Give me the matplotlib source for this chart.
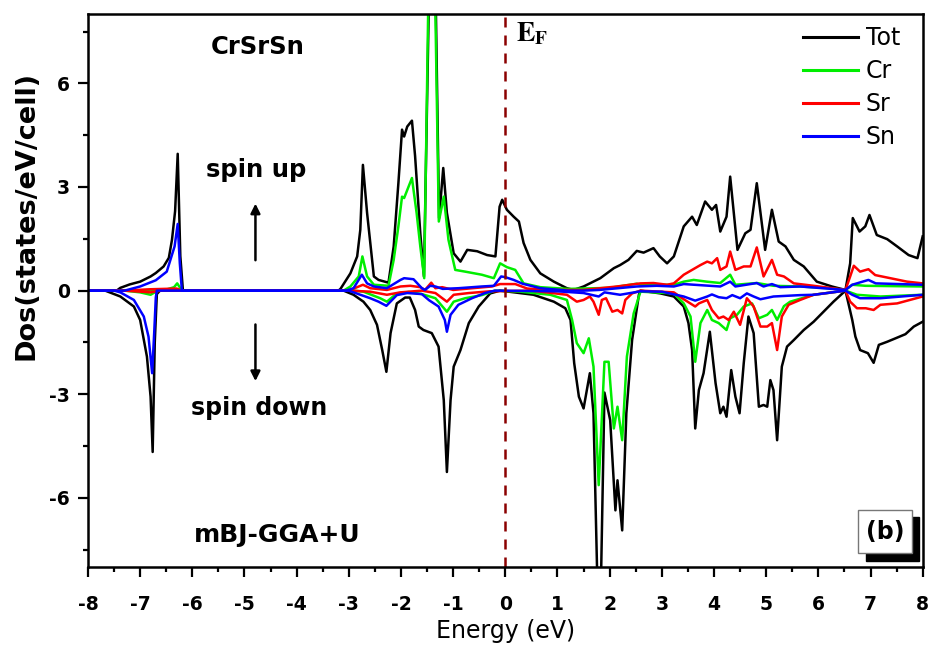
import matplotlib
matplotlib.use("Agg")
import matplotlib.pyplot as plt
from matplotlib.patches import Rectangle

# Spin-polarised total and partial DOS of CrSrSn (E - EF in eV, states/eV/cell)
tot_up = [(-8, 0), (-7.45, 0), (-7.38, 0.08), (-7.2, 0.18), (-7.0, 0.26), (-6.8, 0.41), (-6.7, 0.51),
          (-6.55, 0.70), (-6.45, 0.95), (-6.39, 1.47), (-6.33, 2.3), (-6.28, 3.96), (-6.23, 1.0), (-6.18, 0),
          (-3.2, 0), (-3.16, 0.05), (-2.97, 0.50), (-2.84, 0.99), (-2.78, 1.76), (-2.73, 3.64), (-2.65, 2.25),
          (-2.52, 0.41), (-2.43, 0.31), (-2.24, 0.23), (-2.14, 1.28), (-2.05, 3.11), (-1.98, 4.66), (-1.94, 4.46),
          (-1.88, 4.75), (-1.79, 4.92), (-1.73, 3.9), (-1.63, 1.66), (-1.56, 0.41), (-1.47, 8.0), (-1.41, 15.0),
          (-1.33, 8.0), (-1.27, 2.1), (-1.19, 3.55), (-1.12, 2.25), (-0.99, 1.08), (-0.86, 0.84), (-0.73, 1.18),
          (-0.54, 1.14), (-0.35, 1.03), (-0.19, 0.99), (-0.11, 2.43), (-0.06, 2.63), (0.03, 2.34), (0.16, 2.14),
          (0.26, 2.0), (0.35, 1.38), (0.48, 0.89), (0.67, 0.50), (0.93, 0.26), (1.18, 0.07), (1.31, 0.02),
          (1.50, 0.12), (1.82, 0.36), (2.08, 0.65), (2.20, 0.74), (2.36, 0.89), (2.52, 1.15), (2.65, 1.10),
          (2.84, 1.23), (2.96, 0.99), (3.10, 0.79), (3.23, 0.99), (3.42, 1.86), (3.58, 2.14), (3.67, 1.90),
          (3.83, 2.58), (3.96, 2.34), (4.04, 2.48), (4.12, 1.71), (4.24, 2.14), (4.31, 3.30), (4.45, 1.18),
          (4.60, 1.66), (4.70, 1.76), (4.82, 3.11), (4.98, 1.18), (5.11, 2.34), (5.24, 1.42), (5.37, 1.28),
          (5.53, 0.89), (5.72, 0.70), (5.97, 0.26), (6.26, 0.12), (6.52, 0.02), (6.61, 0.79), (6.66, 2.10),
          (6.79, 1.71), (6.90, 1.86), (6.98, 2.19), (7.12, 1.61), (7.32, 1.49), (7.51, 1.28), (7.73, 1.03),
          (7.90, 0.94), (8.0, 1.57)]

tot_dn = [(-8, 0), (-7.67, 0), (-7.38, -0.17), (-7.12, -0.46), (-7.0, -0.85), (-6.87, -1.91), (-6.80, -3.07),
          (-6.76, -4.67), (-6.72, -1.5), (-6.68, -0.1), (-6.62, 0), (-3.10, 0), (-2.91, -0.12), (-2.72, -0.32),
          (-2.59, -0.56), (-2.46, -0.99), (-2.36, -1.72), (-2.28, -2.35), (-2.20, -1.23), (-2.08, -0.37),
          (-1.92, -0.20), (-1.83, -0.20), (-1.73, -0.56), (-1.66, -1.04), (-1.57, -1.14), (-1.41, -1.23),
          (-1.28, -1.62), (-1.18, -3.17), (-1.12, -5.25), (-1.05, -3.17), (-0.99, -2.20), (-0.86, -1.72),
          (-0.70, -0.94), (-0.51, -0.46), (-0.29, -0.08), (-0.10, 0), (0.54, -0.12), (0.93, -0.32),
          (1.15, -0.51), (1.25, -0.85), (1.32, -2.10), (1.41, -3.07), (1.50, -3.41), (1.62, -2.39),
          (1.69, -3.55), (1.78, -9.5), (1.82, -9.5), (1.90, -2.95), (2.01, -3.75), (2.11, -6.36), (2.15, -5.49),
          (2.24, -6.94), (2.32, -3.55), (2.43, -1.43), (2.56, -0.12), (2.59, 0.0), (2.97, -0.08), (3.23, -0.17),
          (3.42, -0.46), (3.51, -0.94), (3.58, -1.72), (3.64, -3.99), (3.71, -2.88), (3.80, -2.39),
          (3.92, -1.19), (4.03, -2.68), (4.12, -3.55), (4.18, -3.36), (4.24, -3.65), (4.33, -2.30),
          (4.41, -3.07), (4.49, -3.55), (4.57, -2.10), (4.66, -0.75), (4.76, -1.23), (4.86, -3.36),
          (4.95, -3.31), (5.02, -3.36), (5.08, -2.59), (5.14, -2.88), (5.21, -4.33), (5.30, -2.20),
          (5.40, -1.62), (5.53, -1.43), (5.72, -1.14), (5.91, -0.90), (6.10, -0.61), (6.29, -0.32),
          (6.52, 0.0), (6.65, -0.85), (6.71, -1.33), (6.80, -1.72), (6.95, -1.81), (7.06, -2.09),
          (7.16, -1.57), (7.32, -1.48), (7.48, -1.38), (7.67, -1.26), (7.83, -1.04), (8.0, -0.90)]

cr_up = [(-8, 0), (-7.2, 0), (-6.5, 0.03), (-6.35, 0.1), (-6.29, 0.21), (-6.22, 0.05), (-6.18, 0),
         (-3.1, 0), (-2.97, 0.12), (-2.81, 0.41), (-2.74, 0.99), (-2.65, 0.41), (-2.52, 0.17), (-2.24, 0.14),
         (-2.14, 0.89), (-2.05, 1.86), (-1.98, 2.72), (-1.94, 2.68), (-1.79, 3.26), (-1.70, 2.24),
         (-1.63, 1.28), (-1.555, 0.36), (-1.48, 8.0), (-1.41, 14.0), (-1.34, 8.0), (-1.275, 2.0),
         (-1.18, 2.72), (-1.09, 1.47), (-0.96, 0.60), (-0.77, 0.55), (-0.45, 0.46), (-0.22, 0.36),
         (-0.10, 0.79), (0.03, 0.68), (0.19, 0.60), (0.35, 0.21), (0.67, 0.10), (1.2, 0.05), (2.0, 0.08),
         (2.52, 0.2), (2.59, 0.17), (3.23, 0.17), (3.42, 0.26), (3.61, 0.31), (3.86, 0.26), (4.12, 0.22),
         (4.31, 0.46), (4.41, 0.17), (4.82, 0.22), (5.14, 0.14), (5.65, 0.12), (6.2, 0.07), (6.52, 0.02),
         (6.65, 0.17), (6.9, 0.14), (8.0, 0.12)]

cr_dn = [(-8, 0), (-7.3, 0), (-7.0, -0.05), (-6.80, -0.12), (-6.72, -0.05), (-6.65, 0), (-2.9, 0),
         (-2.72, -0.03), (-2.40, -0.22), (-2.27, -0.32), (-2.08, -0.08), (-1.85, -0.04), (-1.6, -0.1),
         (-1.34, -0.22), (-1.12, -0.61), (-0.99, -0.32), (-0.77, -0.22), (-0.45, -0.13), (-0.2, 0),
         (0.29, -0.03), (0.86, -0.12), (1.18, -0.27), (1.28, -0.85), (1.37, -1.52), (1.50, -1.81),
         (1.60, -1.38), (1.69, -2.20), (1.79, -5.63), (1.90, -2.06), (1.98, -2.06), (2.08, -3.99),
         (2.15, -3.36), (2.24, -4.33), (2.33, -1.91), (2.46, -0.66), (2.59, -0.03), (3.23, -0.08),
         (3.42, -0.37), (3.55, -0.75), (3.64, -2.06), (3.74, -0.94), (3.87, -0.56), (3.96, -0.85),
         (4.09, -0.94), (4.24, -1.14), (4.31, -0.80), (4.44, -0.70), (4.57, -0.46), (4.73, -0.37),
         (4.86, -0.80), (5.02, -0.70), (5.11, -0.56), (5.21, -0.85), (5.34, -0.45), (5.46, -0.32),
         (5.91, -0.12), (6.52, 0.0), (6.74, -0.12), (7.19, -0.17), (8.0, -0.12)]

sr_up = [(-8, 0), (-7.3, 0), (-6.8, 0.04), (-6.3, 0.06), (-6.2, 0), (-3.0, 0), (-2.73, 0.17), (-2.59, 0.07),
         (-2.27, 0.02), (-2.01, 0.12), (-1.82, 0.14), (-1.63, 0.10), (-1.54, 0.02), (-1.42, 0.23),
         (-1.34, 0.07), (-1.21, 0.10), (-1.0, 0.02), (-0.26, 0.12), (-0.10, 0.19), (0.19, 0.19),
         (0.42, 0.06), (0.8, 0.02), (1.5, 0.02), (2.14, 0.12), (2.59, 0.21), (2.84, 0.22), (3.10, 0.17),
         (3.23, 0.21), (3.42, 0.46), (3.58, 0.60), (3.74, 0.74), (3.87, 0.84), (3.96, 0.79), (4.06, 0.94),
         (4.12, 0.60), (4.24, 0.70), (4.31, 1.13), (4.41, 0.60), (4.57, 0.70), (4.70, 0.70), (4.82, 1.25),
         (4.95, 0.41), (5.11, 0.89), (5.21, 0.46), (5.34, 0.41), (5.53, 0.21), (5.91, 0.14), (6.52, 0.02),
         (6.61, 0.41), (6.68, 0.72), (6.80, 0.55), (6.96, 0.62), (7.09, 0.45), (7.38, 0.36), (7.70, 0.26),
         (8.0, 0.21)]

sr_dn = [(-8, 0), (-7.3, 0), (-6.8, -0.05), (-6.6, 0), (-3.0, 0), (-2.59, -0.03), (-2.27, -0.12),
         (-2.01, -0.05), (-1.6, 0), (-1.34, -0.07), (-1.12, -0.32), (-0.99, -0.12), (-0.7, -0.07),
         (-0.3, -0.02), (0.5, 0), (1.18, -0.12), (1.37, -0.32), (1.50, -0.27), (1.62, -0.17), (1.69, -0.32),
         (1.79, -0.70), (1.85, -0.27), (1.93, -0.22), (2.05, -0.61), (2.15, -0.56), (2.24, -0.66),
         (2.30, -0.27), (2.43, -0.08), (2.59, 0), (3.23, -0.05), (3.42, -0.25), (3.64, -0.46), (3.71, -0.37),
         (3.87, -0.27), (3.96, -0.56), (4.09, -0.80), (4.18, -0.75), (4.28, -0.85), (4.38, -0.61),
         (4.50, -0.99), (4.63, -0.22), (4.76, -0.46), (4.89, -1.04), (5.02, -1.04), (5.11, -0.94),
         (5.21, -1.72), (5.30, -0.75), (5.43, -0.41), (5.65, -0.27), (5.91, -0.12), (6.52, 0),
         (6.61, -0.32), (6.74, -0.51), (6.91, -0.51), (7.06, -0.56), (7.19, -0.41), (7.51, -0.37),
         (8.0, -0.17)]

sn_up = [(-8, 0), (-7.3, 0), (-7.0, 0.12), (-6.7, 0.3), (-6.49, 0.55), (-6.34, 1.28), (-6.28, 1.93),
         (-6.24, 0.8), (-6.20, 0), (-3.05, 0), (-2.91, 0.07), (-2.75, 0.46), (-2.65, 0.21), (-2.52, 0.12),
         (-2.27, 0.07), (-2.01, 0.31), (-1.94, 0.36), (-1.76, 0.33), (-1.60, 0.07), (-1.54, 0.02),
         (-1.44, 0.14), (-1.34, 0.12), (-1.2, 0.05), (-0.9, 0.07), (-0.45, 0.12), (-0.22, 0.14),
         (-0.08, 0.41), (0.0, 0.39), (0.16, 0.31), (0.33, 0.2), (0.67, 0.07), (1.2, 0.0), (1.5, 0.0),
         (1.8, 0.02), (2.52, 0.12), (2.9, 0.14), (3.23, 0.12), (3.42, 0.19), (4.12, 0.12), (4.31, 0.26),
         (4.41, 0.12), (4.82, 0.22), (4.95, 0.12), (5.11, 0.19), (5.27, 0.10), (5.65, 0.12), (6.52, 0.02),
         (6.65, 0.17), (6.96, 0.31), (7.1, 0.21), (8.0, 0.17)]

sn_dn = [(-8, 0), (-7.5, 0), (-7.38, -0.05), (-7.12, -0.27), (-6.93, -0.75), (-6.84, -1.33), (-6.77, -2.39),
         (-6.73, -1.2), (-6.70, -0.2), (-6.68, 0), (-3.0, 0), (-2.91, -0.05), (-2.59, -0.22), (-2.43, -0.32),
         (-2.28, -0.44), (-2.08, -0.13), (-1.88, -0.07), (-1.6, -0.1), (-1.46, -0.28), (-1.28, -0.46),
         (-1.16, -0.85), (-1.12, -1.19), (-1.05, -0.70), (-0.90, -0.41), (-0.64, -0.22), (-0.39, -0.07),
         (-0.2, 0), (1.0, -0.02), (1.50, -0.07), (1.79, -0.17), (1.9, -0.05), (2.20, -0.12), (2.59, -0.02),
         (3.0, -0.03), (3.42, -0.17), (3.64, -0.29), (3.87, -0.17), (3.96, -0.11), (4.09, -0.19),
         (4.24, -0.22), (4.35, -0.13), (4.50, -0.22), (4.63, -0.08), (4.76, -0.17), (4.89, -0.25),
         (5.14, -0.17), (5.65, -0.13), (5.91, -0.12), (6.52, 0), (6.65, -0.12), (6.80, -0.22),
         (7.19, -0.22), (8.0, -0.12)]

species = ["Tot", "Cr", "Sr", "Sn"]
colors = ["#000000", "#00ee00", "#ff0000", "#0000ff"]
curves = [(tot_up, tot_dn), (cr_up, cr_dn), (sr_up, sr_dn), (sn_up, sn_dn)]

x_ticks = list(range(-8, 9))
y_ticks = [-6, -3, 0, 3, 6]

plt.rcParams["font.family"] = ["DejaVu Sans"]
plt.rcParams["mathtext.fontset"] = "stix"
plt.rcParams["axes.unicode_minus"] = False

fig = plt.figure(figsize=(9.32, 6.48), dpi=100)
ax = fig.add_axes([0.0944, 0.125, 0.8956, 0.853])

for name, col, (up, dn) in zip(species, colors, curves):
    for i, series in enumerate((up, dn)):
        e = [p[0] for p in series]
        d = [p[1] for p in series]
        ax.plot(e, d, color=col, lw=1.8, solid_joinstyle="round",
                label=name if i == 0 else None)

ax.axvline(0, color="#8b0000", lw=1.8, ls=(0, (4, 3.2)))

ax.set_xlim(-8, 8)
ax.set_ylim(-8, 8)
ax.set_xticks(x_ticks)
ax.set_yticks(y_ticks)
ax.set_xticks([v + 0.5 for v in x_ticks[:-1]], minor=True)
ax.set_yticks([-7.5, -4.5, -1.5, 1.5, 4.5, 7.5], minor=True)
ax.tick_params(which="major", direction="out", length=7, width=1.6, labelsize=13.5, pad=6)
ax.tick_params(which="minor", direction="out", length=3.8, width=1.6)
ax.tick_params(axis="x", pad=13)
for lab in ax.get_xticklabels() + ax.get_yticklabels():
    lab.set_fontweight("bold")
for sp in ax.spines.values():
    sp.set_linewidth(1.8)

ax.set_xlabel("Energy (eV)", fontsize=17, labelpad=4)
ax.set_ylabel("Dos(states/eV/cell)", fontsize=19.5, fontweight="bold")
ax.yaxis.set_label_coords(-0.058, 0.636)

ax.text(-4.75, 7.06, "CrSrSn", fontsize=17.5, fontweight="bold", ha="center", va="center")
ax.text(-4.78, 3.5, "spin up", fontsize=17.5, fontweight="bold", ha="center", va="center")
ax.text(-4.72, -3.4, "spin down", fontsize=17, fontweight="bold", ha="center", va="center")
ax.text(-4.37, -7.08, "mBJ-GGA+U", fontsize=18, fontweight="bold", ha="center", va="center")
ax.annotate("", xy=(-4.79, 2.6), xytext=(-4.79, 0.8),
            arrowprops=dict(arrowstyle="-|>", color="k", lw=1.8, mutation_scale=14))
ax.annotate("", xy=(-4.79, -2.7), xytext=(-4.79, -0.9),
            arrowprops=dict(arrowstyle="-|>", color="k", lw=1.8, mutation_scale=14))

ax.text(0.2, 7.2, r"$\mathbf{E}_{\mathbf{F}}$", fontsize=20, ha="left", va="baseline")

# panel tag with drop shadow
ax.add_patch(Rectangle((0.932, 0.011), 0.0636, 0.0796, transform=ax.transAxes,
                       facecolor="black", edgecolor="black", zorder=5))
ax.add_patch(Rectangle((0.9225, 0.0253), 0.0647, 0.0777, transform=ax.transAxes,
                       facecolor="white", edgecolor="#777777", lw=1.0, zorder=6))
ax.text(0.9548, 0.064, "(b)", transform=ax.transAxes, fontsize=17, fontweight="bold",
        ha="center", va="center", zorder=7)

leg = ax.legend(loc="upper right", frameon=False, fontsize=17, handlelength=2.3,
                handletextpad=0.35, labelspacing=0.38, borderaxespad=0.2,
                bbox_to_anchor=(0.99, 1.004))
for ln in leg.get_lines():
    ln.set_linewidth(2.2)

fig.savefig("out.png", dpi=100)
